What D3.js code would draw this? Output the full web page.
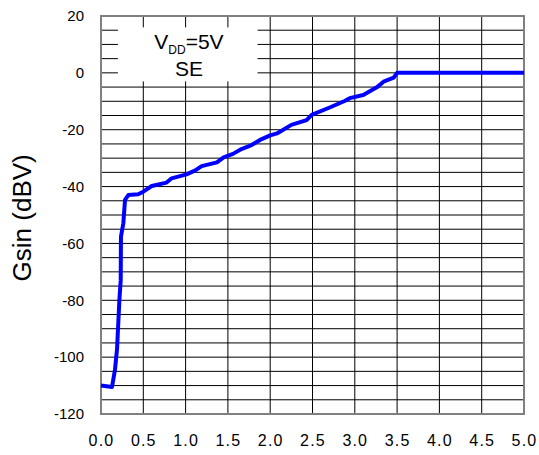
<!DOCTYPE html>
<html>
<head>
<meta charset="utf-8">
<script src="https://cdn.jsdelivr.net/npm/d3@7"></script>
<style>
  body { margin: 0; background: #fff; }
  svg { display: block; font-family: "Liberation Sans", Arial, sans-serif; }
</style>
</head>
<body>
<svg id="chart" width="539" height="455"></svg>
<script>
// supply voltage sweep (V)
var vdd = [0, 0.13, 0.165, 0.19, 0.217, 0.233, 0.236, 0.264, 0.284, 0.323, 0.44, 0.5,
    0.6, 0.775, 0.835, 1.01, 1.11, 1.19, 1.37, 1.45, 1.56, 1.66, 1.78, 1.88, 2.0,
    2.08, 2.25, 2.43, 2.49, 2.71, 2.88, 2.94, 3.1, 3.26, 3.34, 3.46, 3.5, 3.53, 5.0];
// Gsin (dBV)
var gsin = [-110, -110.5, -104.5, -97, -80, -73, -57.6, -52.9, -44.7, -43, -42.7, -41.8,
    -39.8, -38.6, -37.1, -35.7, -34.4, -32.8, -31.5, -29.7, -28.5, -26.8, -25.4, -23.6, -22,
    -21.3, -18.3, -16.6, -14.8, -12.1, -9.9, -8.9, -7.8, -5.1, -3.1, -1.7, 0, 0, 0];

var xTicks = [0, 0.5, 1, 1.5, 2, 2.5, 3, 3.5, 4, 4.5, 5];
var yTicks = [20, 0, -20, -40, -60, -80, -100, -120];
var yGrid = d3.range(-120, 21, 5);

var data = vdd.map(function(v, i) { return { x: v, y: gsin[i] }; });

var margin = { left: 101, top: 16, right: 15, bottom: 41 };
var width = 539 - margin.left - margin.right;
var height = 455 - margin.top - margin.bottom;

var svg = d3.select('#chart');
var g = svg.append('g')
    .attr('transform', 'translate(' + margin.left + ',' + margin.top + ')');

var xScale = d3.scaleLinear().domain([0, 5]).range([0, width]);
var yScale = d3.scaleLinear().domain([-120, 20]).range([height, 0]);

// grid
g.append('g')
    .selectAll('line')
    .data(yGrid)
    .enter().append('line')
    .attr('x1', 0).attr('x2', width)
    .attr('y1', function(d) { return yScale(d); })
    .attr('y2', function(d) { return yScale(d); })
    .style('stroke', '#000').style('stroke-width', 1);

g.append('g')
    .selectAll('line')
    .data(xTicks)
    .enter().append('line')
    .attr('y1', 0).attr('y2', height)
    .attr('x1', function(d) { return xScale(d); })
    .attr('x2', function(d) { return xScale(d); })
    .style('stroke', '#000').style('stroke-width', 1);

// frame
g.append('rect')
    .attr('x', 0).attr('y', 0)
    .attr('width', width).attr('height', height)
    .style('fill', 'none')
    .style('stroke', '#808080')
    .style('stroke-width', 2);

// annotation box
var bx0 = xScale(0.2), bx1 = xScale(1.85);
var by0 = yScale(16), by1 = yScale(-3);
g.append('rect')
    .attr('x', bx0).attr('y', by0)
    .attr('width', bx1 - bx0).attr('height', by1 - by0)
    .style('fill', '#fff');

var note = g.append('text')
    .attr('x', xScale(1.04))
    .attr('y', yScale(8.3))
    .attr('text-anchor', 'middle')
    .style('font-size', '21px');
note.append('tspan').text('V');
note.append('tspan').attr('dy', 5).style('font-size', '12px').text('DD');
note.append('tspan').attr('dy', -5).text('=5V');

g.append('text')
    .attr('x', xScale(1.04))
    .attr('y', yScale(-1))
    .attr('text-anchor', 'middle')
    .style('font-size', '21px')
    .text('SE');

// curve
var line = d3.line()
    .x(function(d) { return xScale(d.x); })
    .y(function(d) { return yScale(d.y); });

g.append('path')
    .datum(data)
    .attr('d', line)
    .style('fill', 'none')
    .style('stroke', '#0000ff')
    .style('stroke-width', 4)
    .style('stroke-linejoin', 'round');

// axes
var yAxis = g.append('g')
    .call(d3.axisLeft(yScale).tickValues(yTicks).tickSize(0).tickPadding(17)
        .tickFormat(function(d) { return String(d); }));
yAxis.select('.domain').remove();
yAxis.selectAll('text')
    .style('font-size', '15px')
    .style('font-family', '"Liberation Sans", Arial, sans-serif')
    .style('fill', '#000');

var xAxis = g.append('g')
    .attr('transform', 'translate(0,' + height + ')')
    .call(d3.axisBottom(xScale).tickValues(xTicks).tickSize(0).tickPadding(21)
        .tickFormat(d3.format('.1f')));
xAxis.select('.domain').remove();
xAxis.selectAll('text')
    .style('font-size', '16px')
    .style('letter-spacing', '1.2px')
    .style('font-family', '"Liberation Sans", Arial, sans-serif')
    .style('fill', '#000');

// y title
svg.append('text')
    .attr('transform', 'translate(31,' + (margin.top + yScale(-51)) + ') rotate(-90)')
    .attr('text-anchor', 'middle')
    .style('font-size', '26px')
    .text('Gsin (dBV)');
</script>
</body>
</html>
